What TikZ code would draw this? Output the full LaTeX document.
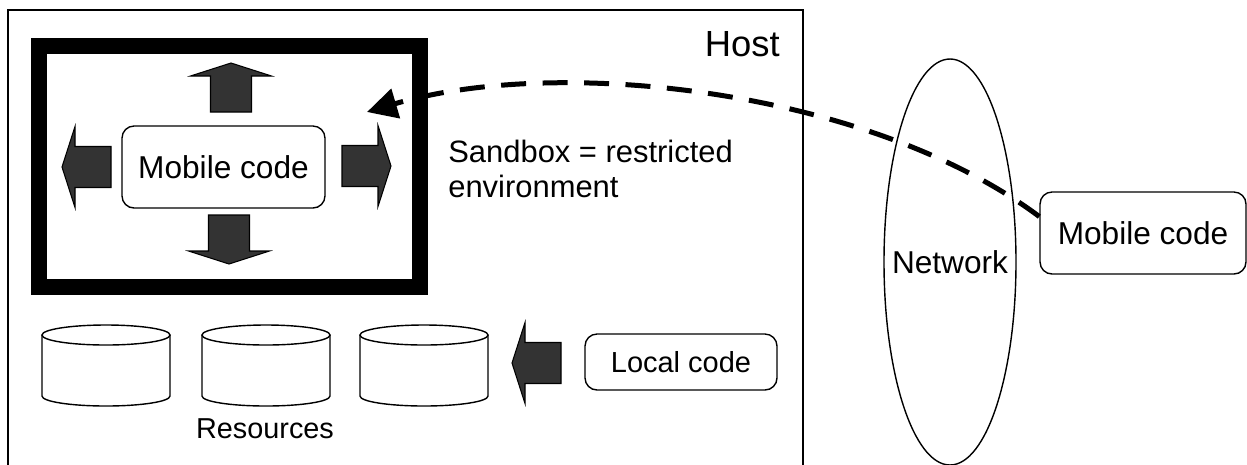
\documentclass[tikz,border=0pt]{standalone}
\usepackage{fontspec}
\setmainfont{Liberation Sans}
\usetikzlibrary{arrows.meta}
\definecolor{arrowgray}{HTML}{333333}

\tikzset{
  codebox/.style={draw, line width=0.8pt, rounded corners=0.24cm, inner sep=0pt,
                  font=\fontsize{18}{21.6}\selectfont},
  blockfill/.style={draw=black, line width=0.6pt, fill=arrowgray},
  blockarr/.pic={% fat arrow pointing along local x
    \draw[blockfill] (0,-20.5) -- (36,-20.5) -- (36,-40.5) -- (49,0)
      -- (36,40.5) -- (36,20.5) -- (0,20.5) -- cycle;
  }
}

\begin{document}
\begin{tikzpicture}[x=0.02cm, y=-0.02cm]
    \useasboundingbox (0,0) rectangle (1247,464);

    % host and sandbox
    \draw[line width=1pt] (8,470) -- (8,10) -- (803,10) -- (803,470);
    \node[anchor=base east, inner sep=0pt, font=\fontsize{20.7}{24}\selectfont] (host) at (780,56) {Host};
    \draw[line width=0.32cm] (39,46) rectangle (420,287); % thick sandbox wall

    \node[codebox, minimum width=4.06cm, minimum height=1.64cm] (mobile) at (223.5,167) {Mobile code};
    % arrows pushing against the wall
    \pic[rotate=90]  at (231,112) {blockarr};
    \pic[rotate=-90] at (229,215) {blockarr};
    \pic[rotate=180] at (111,167) {blockarr};
    \pic             at (342,166) {blockarr};

    \node[anchor=base west, align=left, inner sep=0pt,
          font=\fontsize{17.6}{19.9}\selectfont] (sandbox) at (448,197)
          {Sandbox = restricted\\environment}; % base = last line

    % resources
    \foreach \cx in {106,266,424}{%
      \draw[line width=0.8pt] (\cx-64,335) -- (\cx-64,396)
          arc[start angle=180, end angle=0, x radius=64, y radius=10] -- (\cx+64,335);
      \draw[line width=0.8pt] (\cx,335) ellipse[x radius=64, y radius=10];
    }
    \node[anchor=base, inner sep=0pt, font=\fontsize{16.4}{19}\selectfont] (res) at (265,438) {Resources};

    \node[codebox, minimum width=3.84cm, minimum height=1.12cm,
          font=\fontsize{16.5}{19}\selectfont] (local) at (681,362) {Local code};
    \pic[rotate=180] at (561,363) {blockarr};

    % outside world
    \draw[line width=0.8pt] (950,262) ellipse[x radius=66, y radius=203];
    \node[font=\fontsize{18}{21.6}\selectfont] (net) at (950,262) {Network};
    \node[codebox, minimum width=4.12cm, minimum height=1.64cm] (remote) at (1143,233) {Mobile code};

    \coordinate (entry) at (367,112);
    \draw[line width=0.1cm, dash pattern=on 0.5cm off 0.33cm, -{Triangle[length=0.6cm, width=0.6cm]}]
        (remote.171) .. controls (870,90) and (560,55) .. (entry);
\end{tikzpicture}
\end{document}
